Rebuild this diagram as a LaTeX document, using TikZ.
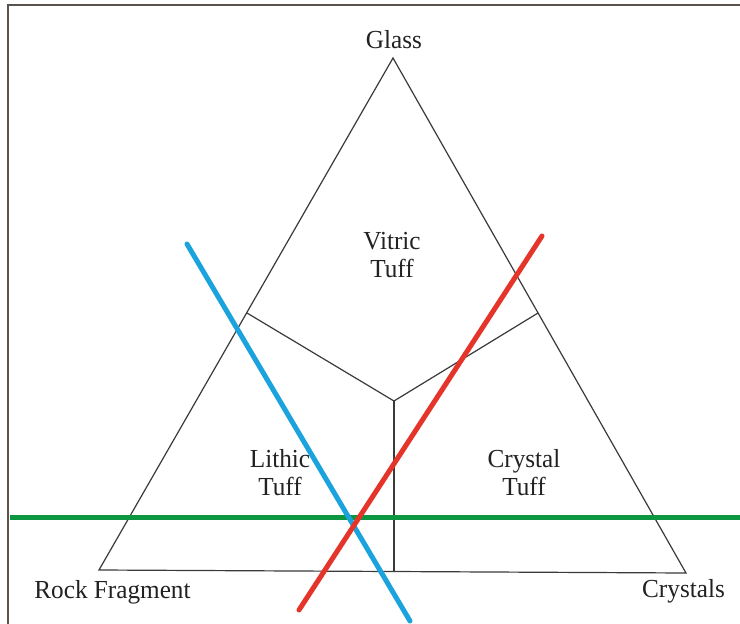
\documentclass[tikz,border=0pt]{standalone}
\usepackage{fontspec}
\setmainfont{Liberation Serif}
\newfontfamily\tnr[FakeStretch=0.97]{Liberation Serif}
\definecolor{frame}{HTML}{5A524C}
\definecolor{tri}{HTML}{3A3A3A}
\definecolor{txt}{HTML}{222222}
\definecolor{cblue}{HTML}{1BA3DD}
\definecolor{cred}{HTML}{E5352A}
\definecolor{cgreen}{HTML}{0C9640}
\begin{document}
\begin{tikzpicture}[x=1pt,y=-1pt,
  lbl/.style={font=\tnr\fontsize{26}{28}\selectfont, text=txt, anchor=base, inner sep=0pt},
  triline/.style={draw=tri, line width=1.2pt},
  thick line/.style={line width=5pt, line cap=round}]
\useasboundingbox (0,0) rectangle (740,624);
\fill[white] (0,0) rectangle (740,624);
% frame
\draw[frame, line width=1.5pt] (8,624) -- (8,5) -- (740,5);
% vertices
\coordinate (A) at (393,58);
\coordinate (B) at (99,570);
\coordinate (C) at (686,573);
\coordinate (L) at (247,313);
\coordinate (R) at (538,313);
\coordinate (O) at (394,401);
\coordinate (D) at (394,571);
\draw[triline] (A) -- (B) -- (C) -- cycle;
\draw[triline] (L) -- (O) -- (R);
\draw[triline] (O) -- (D);
% labels
\node[lbl] (glass) at (394,48) {Glass};
\node[lbl] (rock) at (112.5,598) {Rock Fragment};
\node[lbl] (cry) at (683.5,597) {Crystals};
\node[lbl] (v1) at (392,249) {Vitric};
\node[lbl] (v2) at (392,277) {Tuff};
\node[lbl] (l1) at (280,467) {Lithic};
\node[lbl] (l2) at (280,495) {Tuff};
\node[lbl] (c1) at (524,467) {Crystal};
\node[lbl] (c2) at (524,495) {Tuff};
% coloured lines
\coordinate (g1) at (10,517.5);
\coordinate (g2) at (740,517.5);
\coordinate (b1) at (187,244);
\coordinate (b2) at (410,621);
\coordinate (r1) at (542,236);
\coordinate (r2) at (299,610);
\draw[cgreen, line width=5pt] (g1) -- (g2);
\draw[cblue, thick line] (b1) -- (b2);
\draw[cred, thick line] (r1) -- (r2);
\end{tikzpicture}
\end{document}
